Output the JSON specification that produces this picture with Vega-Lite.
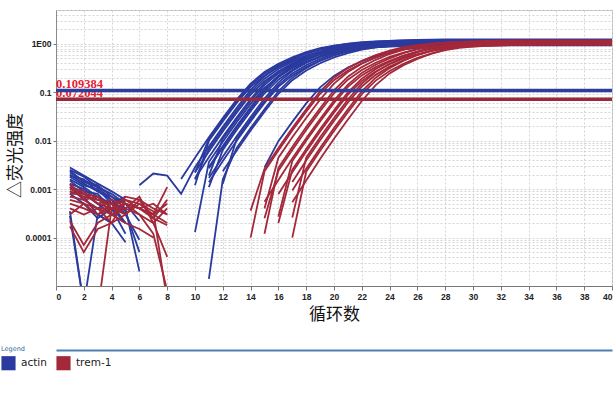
{
"$schema":"https://vega.github.io/schema/vega-lite/v6.json",
"width":556,"height":276,
"autosize":{"type":"none"},
"padding":{"left":56,"top":10,"right":4,"bottom":107},
"background":"white",
"config":{
 "view":{"stroke":"#b8b8b8","strokeWidth":1},
 "axis":{"labelFont":"Liberation Sans","labelFontWeight":"bold","labelFontSize":8.5,"labelColor":"#222","tickColor":"#777","domainColor":"#8a8a8a","gridColor":"#d4d4d4","gridDash":[2,2],"gridWidth":1,"titleFont":"Noto Sans CJK SC","titleFontSize":17,"titleFontWeight":"normal","titleColor":"#111","labelOverlap":false}
},
"datasets":{
"actin":[
{"s":"B1","c":1,"v":0.0028},{"s":"B1","c":2,"v":0.0019},{"s":"B1","c":3,"v":0.0013},{"s":"B1","c":4,"v":0.0009},{"s":"B1","c":5,"v":0.0006},
{"s":"B2","c":1,"v":0.0025},{"s":"B2","c":2,"v":0.0018},{"s":"B2","c":3,"v":0.0011},{"s":"B2","c":4,"v":0.0008},{"s":"B2","c":5,"v":0.0005},{"s":"B2","c":6,"v":0.00022},
{"s":"B3","c":1,"v":0.0022},{"s":"B3","c":2,"v":0.0015},{"s":"B3","c":3,"v":0.0012},{"s":"B3","c":4,"v":0.0007},{"s":"B3","c":5,"v":0.0004},
{"s":"B4","c":1,"v":0.002},{"s":"B4","c":2,"v":0.0013},{"s":"B4","c":3,"v":0.0009},{"s":"B4","c":4,"v":0.0006},{"s":"B4","c":5,"v":0.0003},{"s":"B4","c":6,"v":0.00009},
{"s":"B5","c":1,"v":0.0018},{"s":"B5","c":2,"v":0.0012},{"s":"B5","c":3,"v":0.001},{"s":"B5","c":4,"v":0.0005},{"s":"B5","c":5,"v":0.0007},
{"s":"B6","c":1,"v":0.0016},{"s":"B6","c":2,"v":0.0011},{"s":"B6","c":3,"v":0.0007},{"s":"B6","c":4,"v":0.0005},{"s":"B6","c":5,"v":0.0002},
{"s":"B7","c":1,"v":0.0015},{"s":"B7","c":2,"v":0.0009},{"s":"B7","c":3,"v":0.0008},{"s":"B7","c":4,"v":0.0004},{"s":"B7","c":5,"v":0.00012},
{"s":"B8","c":1,"v":0.0013},{"s":"B8","c":2,"v":0.001},{"s":"B8","c":3,"v":0.0006},{"s":"B8","c":4,"v":0.0005},{"s":"B8","c":5,"v":0.0004},{"s":"B8","c":6,"v":0.00002},
{"s":"B9","c":1,"v":0.0012},{"s":"B9","c":2,"v":0.0008},{"s":"B9","c":3,"v":0.0005},{"s":"B9","c":4,"v":0.0003},{"s":"B9","c":5,"v":0.0002},
{"s":"B10","c":1,"v":0.0011},{"s":"B10","c":2,"v":0.0006},{"s":"B10","c":3,"v":0.0004},{"s":"B10","c":4,"v":0.0006},{"s":"B10","c":5,"v":0.0003},
{"s":"B11","c":1,"v":0.0009},{"s":"B11","c":2,"v":0.0007},{"s":"B11","c":3,"v":0.0003},{"s":"B11","c":4,"v":0.0002},{"s":"B11","c":5,"v":0.00008},
{"s":"B12","c":1,"v":0.0008},{"s":"B12","c":2,"v":0.0005},{"s":"B12","c":3,"v":0.00025},{"s":"B12","c":4,"v":0.0004},{"s":"B12","c":5,"v":0.0002},
{"s":"B13","c":1,"v":0.00035},{"s":"B13","c":2,"v":0.000004},{"s":"B13","c":3,"v":0.0003},{"s":"B13","c":4,"v":0.0002},
{"s":"B14","c":1,"v":0.00028},{"s":"B14","c":2,"v":0.000004},
{"s":"B15","c":1,"v":0.0024},{"s":"B15","c":2,"v":0.0014},{"s":"B15","c":3,"v":0.0011},{"s":"B15","c":4,"v":0.0006},{"s":"B15","c":5,"v":0.00035},{"s":"B15","c":6,"v":0.00005},
{"s":"B16","c":1,"v":0.0019},{"s":"B16","c":2,"v":0.0016},{"s":"B16","c":3,"v":0.0009},{"s":"B16","c":4,"v":0.0007},{"s":"B16","c":5,"v":0.0005},
{"s":"A1","c":9,"v":0.00162},{"s":"A1","c":10,"v":0.00447},{"s":"A1","c":11,"v":0.0118},{"s":"A1","c":12,"v":0.0295},{"s":"A1","c":13,"v":0.0709},{"s":"A1","c":14,"v":0.151},{"s":"A1","c":15,"v":0.263},{"s":"A1","c":16,"v":0.389},{"s":"A1","c":17,"v":0.525},{"s":"A1","c":18,"v":0.676},{"s":"A1","c":19,"v":0.814},{"s":"A1","c":20,"v":0.923},{"s":"A1","c":21,"v":1.0},{"s":"A1","c":22,"v":1.06},{"s":"A1","c":23,"v":1.085},{"s":"A1","c":24,"v":1.11},{"s":"A1","c":25,"v":1.129},{"s":"A1","c":26,"v":1.142},{"s":"A1","c":40,"v":1.149},
{"s":"A2","c":10,"v":0.0012},{"s":"A2","c":11,"v":0.01},{"s":"A2","c":12,"v":0.0251},{"s":"A2","c":13,"v":0.0603},{"s":"A2","c":14,"v":0.129},{"s":"A2","c":15,"v":0.223},{"s":"A2","c":16,"v":0.331},{"s":"A2","c":17,"v":0.447},{"s":"A2","c":18,"v":0.575},{"s":"A2","c":19,"v":0.692},{"s":"A2","c":20,"v":0.785},{"s":"A2","c":21,"v":0.851},{"s":"A2","c":22,"v":0.902},{"s":"A2","c":23,"v":0.923},{"s":"A2","c":24,"v":0.944},{"s":"A2","c":25,"v":0.96},{"s":"A2","c":26,"v":0.971},{"s":"A2","c":40,"v":0.978},
{"s":"A3","c":6,"v":0.0012},{"s":"A3","c":7,"v":0.0021},{"s":"A3","c":8,"v":0.0019},{"s":"A3","c":9,"v":0.0008},{"s":"A3","c":10,"v":0.00282},{"s":"A3","c":11,"v":0.00758},{"s":"A3","c":12,"v":0.0195},{"s":"A3","c":13,"v":0.0479},{"s":"A3","c":14,"v":0.112},{"s":"A3","c":15,"v":0.214},{"s":"A3","c":16,"v":0.339},{"s":"A3","c":17,"v":0.479},{"s":"A3","c":18,"v":0.631},{"s":"A3","c":19,"v":0.776},{"s":"A3","c":20,"v":0.912},{"s":"A3","c":21,"v":1.012},{"s":"A3","c":22,"v":1.084},{"s":"A3","c":23,"v":1.122},{"s":"A3","c":24,"v":1.148},{"s":"A3","c":25,"v":1.175},{"s":"A3","c":26,"v":1.188},{"s":"A3","c":27,"v":1.203},{"s":"A3","c":40,"v":1.203},
{"s":"A4","c":10,"v":0.0016},{"s":"A4","c":11,"v":0.00676},{"s":"A4","c":12,"v":0.0174},{"s":"A4","c":13,"v":0.0427},{"s":"A4","c":14,"v":0.1},{"s":"A4","c":15,"v":0.191},{"s":"A4","c":16,"v":0.302},{"s":"A4","c":17,"v":0.427},{"s":"A4","c":18,"v":0.562},{"s":"A4","c":19,"v":0.692},{"s":"A4","c":20,"v":0.813},{"s":"A4","c":21,"v":0.902},{"s":"A4","c":22,"v":0.966},{"s":"A4","c":23,"v":1.0},{"s":"A4","c":24,"v":1.023},{"s":"A4","c":25,"v":1.047},{"s":"A4","c":26,"v":1.059},{"s":"A4","c":27,"v":1.072},{"s":"A4","c":40,"v":1.072},
{"s":"A5","c":10,"v":0.00224},{"s":"A5","c":11,"v":0.00602},{"s":"A5","c":12,"v":0.0155},{"s":"A5","c":13,"v":0.038},{"s":"A5","c":14,"v":0.0891},{"s":"A5","c":15,"v":0.17},{"s":"A5","c":16,"v":0.269},{"s":"A5","c":17,"v":0.38},{"s":"A5","c":18,"v":0.501},{"s":"A5","c":19,"v":0.617},{"s":"A5","c":20,"v":0.724},{"s":"A5","c":21,"v":0.804},{"s":"A5","c":22,"v":0.861},{"s":"A5","c":23,"v":0.891},{"s":"A5","c":24,"v":0.912},{"s":"A5","c":25,"v":0.933},{"s":"A5","c":26,"v":0.944},{"s":"A5","c":27,"v":0.955},{"s":"A5","c":40,"v":0.955},
{"s":"A6","c":10,"v":0.00165},{"s":"A6","c":11,"v":0.00457},{"s":"A6","c":12,"v":0.012},{"s":"A6","c":13,"v":0.0301},{"s":"A6","c":14,"v":0.0724},{"s":"A6","c":15,"v":0.155},{"s":"A6","c":16,"v":0.269},{"s":"A6","c":17,"v":0.398},{"s":"A6","c":18,"v":0.537},{"s":"A6","c":19,"v":0.692},{"s":"A6","c":20,"v":0.832},{"s":"A6","c":21,"v":0.944},{"s":"A6","c":22,"v":1.023},{"s":"A6","c":23,"v":1.084},{"s":"A6","c":24,"v":1.109},{"s":"A6","c":25,"v":1.134},{"s":"A6","c":26,"v":1.154},{"s":"A6","c":27,"v":1.167},{"s":"A6","c":40,"v":1.175},
{"s":"A7","c":11,"v":0.0019},{"s":"A7","c":12,"v":0.011},{"s":"A7","c":13,"v":0.0275},{"s":"A7","c":14,"v":0.0661},{"s":"A7","c":15,"v":0.141},{"s":"A7","c":16,"v":0.245},{"s":"A7","c":17,"v":0.363},{"s":"A7","c":18,"v":0.49},{"s":"A7","c":19,"v":0.631},{"s":"A7","c":20,"v":0.759},{"s":"A7","c":21,"v":0.861},{"s":"A7","c":22,"v":0.933},{"s":"A7","c":23,"v":0.989},{"s":"A7","c":24,"v":1.012},{"s":"A7","c":25,"v":1.035},{"s":"A7","c":26,"v":1.053},{"s":"A7","c":27,"v":1.065},{"s":"A7","c":40,"v":1.072},
{"s":"A8","c":10,"v":0.00013},{"s":"A8","c":11,"v":0.00363},{"s":"A8","c":12,"v":0.00955},{"s":"A8","c":13,"v":0.024},{"s":"A8","c":14,"v":0.0576},{"s":"A8","c":15,"v":0.123},{"s":"A8","c":16,"v":0.213},{"s":"A8","c":17,"v":0.316},{"s":"A8","c":18,"v":0.427},{"s":"A8","c":19,"v":0.55},{"s":"A8","c":20,"v":0.661},{"s":"A8","c":21,"v":0.75},{"s":"A8","c":22,"v":0.813},{"s":"A8","c":23,"v":0.861},{"s":"A8","c":24,"v":0.881},{"s":"A8","c":25,"v":0.901},{"s":"A8","c":26,"v":0.917},{"s":"A8","c":27,"v":0.928},{"s":"A8","c":40,"v":0.934},
{"s":"A9","c":11,"v":0.00269},{"s":"A9","c":12,"v":0.00725},{"s":"A9","c":13,"v":0.0187},{"s":"A9","c":14,"v":0.0458},{"s":"A9","c":15,"v":0.107},{"s":"A9","c":16,"v":0.205},{"s":"A9","c":17,"v":0.324},{"s":"A9","c":18,"v":0.458},{"s":"A9","c":19,"v":0.602},{"s":"A9","c":20,"v":0.742},{"s":"A9","c":21,"v":0.872},{"s":"A9","c":22,"v":0.967},{"s":"A9","c":23,"v":1.036},{"s":"A9","c":24,"v":1.072},{"s":"A9","c":25,"v":1.097},{"s":"A9","c":26,"v":1.122},{"s":"A9","c":27,"v":1.135},{"s":"A9","c":28,"v":1.149},{"s":"A9","c":40,"v":1.149},
{"s":"A10","c":11,"v":0.0011},{"s":"A10","c":12,"v":0.00646},{"s":"A10","c":13,"v":0.0166},{"s":"A10","c":14,"v":0.0408},{"s":"A10","c":15,"v":0.0955},{"s":"A10","c":16,"v":0.182},{"s":"A10","c":17,"v":0.288},{"s":"A10","c":18,"v":0.408},{"s":"A10","c":19,"v":0.537},{"s":"A10","c":20,"v":0.661},{"s":"A10","c":21,"v":0.776},{"s":"A10","c":22,"v":0.861},{"s":"A10","c":23,"v":0.923},{"s":"A10","c":24,"v":0.955},{"s":"A10","c":25,"v":0.977},{"s":"A10","c":26,"v":1.0},{"s":"A10","c":27,"v":1.011},{"s":"A10","c":28,"v":1.024},{"s":"A10","c":40,"v":1.024},
{"s":"A11","c":11,"v":0.00288},{"s":"A11","c":12,"v":0.00776},{"s":"A11","c":13,"v":0.02},{"s":"A11","c":14,"v":0.049},{"s":"A11","c":15,"v":0.115},{"s":"A11","c":16,"v":0.219},{"s":"A11","c":17,"v":0.347},{"s":"A11","c":18,"v":0.49},{"s":"A11","c":19,"v":0.645},{"s":"A11","c":20,"v":0.794},{"s":"A11","c":21,"v":0.933},{"s":"A11","c":22,"v":1.035},{"s":"A11","c":23,"v":1.109},{"s":"A11","c":24,"v":1.148},{"s":"A11","c":25,"v":1.174},{"s":"A11","c":26,"v":1.202},{"s":"A11","c":27,"v":1.216},{"s":"A11","c":28,"v":1.231},{"s":"A11","c":40,"v":1.231},
{"s":"A12","c":12,"v":0.0013},{"s":"A12","c":13,"v":0.011},{"s":"A12","c":14,"v":0.0275},{"s":"A12","c":15,"v":0.0661},{"s":"A12","c":16,"v":0.141},{"s":"A12","c":17,"v":0.245},{"s":"A12","c":18,"v":0.363},{"s":"A12","c":19,"v":0.49},{"s":"A12","c":20,"v":0.631},{"s":"A12","c":21,"v":0.759},{"s":"A12","c":22,"v":0.861},{"s":"A12","c":23,"v":0.933},{"s":"A12","c":24,"v":0.989},{"s":"A12","c":25,"v":1.012},{"s":"A12","c":26,"v":1.035},{"s":"A12","c":27,"v":1.053},{"s":"A12","c":28,"v":1.065},{"s":"A12","c":40,"v":1.072},
{"s":"A13","c":11,"v":0.00138},{"s":"A13","c":12,"v":0.0038},{"s":"A13","c":13,"v":0.01},{"s":"A13","c":14,"v":0.0251},{"s":"A13","c":15,"v":0.0603},{"s":"A13","c":16,"v":0.129},{"s":"A13","c":17,"v":0.223},{"s":"A13","c":18,"v":0.331},{"s":"A13","c":19,"v":0.447},{"s":"A13","c":20,"v":0.575},{"s":"A13","c":21,"v":0.692},{"s":"A13","c":22,"v":0.785},{"s":"A13","c":23,"v":0.851},{"s":"A13","c":24,"v":0.902},{"s":"A13","c":25,"v":0.923},{"s":"A13","c":26,"v":0.944},{"s":"A13","c":27,"v":0.96},{"s":"A13","c":28,"v":0.971},{"s":"A13","c":40,"v":0.978},
{"s":"A14","c":11,"v":0.000014},{"s":"A14","c":12,"v":0.0016},{"s":"A14","c":13,"v":0.00708},{"s":"A14","c":14,"v":0.0182},{"s":"A14","c":15,"v":0.0447},{"s":"A14","c":16,"v":0.105},{"s":"A14","c":17,"v":0.2},{"s":"A14","c":18,"v":0.316},{"s":"A14","c":19,"v":0.447},{"s":"A14","c":20,"v":0.588},{"s":"A14","c":21,"v":0.724},{"s":"A14","c":22,"v":0.851},{"s":"A14","c":23,"v":0.944},{"s":"A14","c":24,"v":1.011},{"s":"A14","c":25,"v":1.047},{"s":"A14","c":26,"v":1.071},{"s":"A14","c":27,"v":1.096},{"s":"A14","c":28,"v":1.109},{"s":"A14","c":29,"v":1.122},{"s":"A14","c":40,"v":1.122},
{"s":"A15","c":12,"v":0.00234},{"s":"A15","c":13,"v":0.00631},{"s":"A15","c":14,"v":0.0162},{"s":"A15","c":15,"v":0.0398},{"s":"A15","c":16,"v":0.0933},{"s":"A15","c":17,"v":0.178},{"s":"A15","c":18,"v":0.282},{"s":"A15","c":19,"v":0.398},{"s":"A15","c":20,"v":0.524},{"s":"A15","c":21,"v":0.646},{"s":"A15","c":22,"v":0.759},{"s":"A15","c":23,"v":0.842},{"s":"A15","c":24,"v":0.901},{"s":"A15","c":25,"v":0.933},{"s":"A15","c":26,"v":0.954},{"s":"A15","c":27,"v":0.977},{"s":"A15","c":28,"v":0.988},{"s":"A15","c":29,"v":1.0},{"s":"A15","c":40,"v":1.0},
{"s":"A16","c":15,"v":0.0028},{"s":"A16","c":16,"v":0.00977},{"s":"A16","c":17,"v":0.0245},{"s":"A16","c":18,"v":0.0589},{"s":"A16","c":19,"v":0.126},{"s":"A16","c":20,"v":0.218},{"s":"A16","c":21,"v":0.323},{"s":"A16","c":22,"v":0.437},{"s":"A16","c":23,"v":0.562},{"s":"A16","c":24,"v":0.676},{"s":"A16","c":25,"v":0.767},{"s":"A16","c":26,"v":0.831},{"s":"A16","c":27,"v":0.881},{"s":"A16","c":28,"v":0.902},{"s":"A16","c":29,"v":0.922},{"s":"A16","c":30,"v":0.938},{"s":"A16","c":31,"v":0.949},{"s":"A16","c":40,"v":0.955},
{"s":"A17","c":10,"v":0.0022},{"s":"A17","c":11,"v":0.011},{"s":"A17","c":12,"v":0.0275},{"s":"A17","c":13,"v":0.0661},{"s":"A17","c":14,"v":0.141},{"s":"A17","c":15,"v":0.245},{"s":"A17","c":16,"v":0.363},{"s":"A17","c":17,"v":0.49},{"s":"A17","c":18,"v":0.631},{"s":"A17","c":19,"v":0.759},{"s":"A17","c":20,"v":0.861},{"s":"A17","c":21,"v":0.933},{"s":"A17","c":22,"v":0.989},{"s":"A17","c":23,"v":1.012},{"s":"A17","c":24,"v":1.035},{"s":"A17","c":25,"v":1.053},{"s":"A17","c":26,"v":1.065},{"s":"A17","c":40,"v":1.072},
{"s":"A18","c":11,"v":0.00169},{"s":"A18","c":12,"v":0.00468},{"s":"A18","c":13,"v":0.0123},{"s":"A18","c":14,"v":0.0309},{"s":"A18","c":15,"v":0.0742},{"s":"A18","c":16,"v":0.158},{"s":"A18","c":17,"v":0.275},{"s":"A18","c":18,"v":0.407},{"s":"A18","c":19,"v":0.55},{"s":"A18","c":20,"v":0.708},{"s":"A18","c":21,"v":0.852},{"s":"A18","c":22,"v":0.966},{"s":"A18","c":23,"v":1.047},{"s":"A18","c":24,"v":1.11},{"s":"A18","c":25,"v":1.135},{"s":"A18","c":26,"v":1.161},{"s":"A18","c":27,"v":1.181},{"s":"A18","c":28,"v":1.195},{"s":"A18","c":40,"v":1.203}
],
"trem":[
{"s":"R1","c":1,"v":0.0009},{"s":"R1","c":2,"v":0.0007},{"s":"R1","c":3,"v":0.0006},{"s":"R1","c":4,"v":0.0005},{"s":"R1","c":5,"v":0.0006},{"s":"R1","c":6,"v":0.0005},{"s":"R1","c":7,"v":0.0003},{"s":"R1","c":8,"v":0.0005},
{"s":"R2","c":1,"v":0.0008},{"s":"R2","c":2,"v":0.0008},{"s":"R2","c":3,"v":0.0005},{"s":"R2","c":4,"v":0.0004},{"s":"R2","c":5,"v":0.0007},{"s":"R2","c":6,"v":0.0006},{"s":"R2","c":7,"v":0.0004},{"s":"R2","c":8,"v":0.0003},
{"s":"R3","c":1,"v":0.0007},{"s":"R3","c":2,"v":0.0006},{"s":"R3","c":3,"v":0.0007},{"s":"R3","c":4,"v":0.0003},{"s":"R3","c":5,"v":0.0005},{"s":"R3","c":6,"v":0.0004},{"s":"R3","c":7,"v":0.00025},{"s":"R3","c":8,"v":0.0006},
{"s":"R4","c":1,"v":0.0006},{"s":"R4","c":2,"v":0.0005},{"s":"R4","c":3,"v":0.0004},{"s":"R4","c":4,"v":0.0004},{"s":"R4","c":5,"v":0.0004},{"s":"R4","c":6,"v":0.0007},{"s":"R4","c":7,"v":0.0002},{"s":"R4","c":8,"v":0.00004},
{"s":"R5","c":1,"v":0.0005},{"s":"R5","c":2,"v":0.0004},{"s":"R5","c":3,"v":0.0003},{"s":"R5","c":4,"v":0.0005},{"s":"R5","c":5,"v":0.0003},{"s":"R5","c":6,"v":0.0005},{"s":"R5","c":7,"v":0.00035},{"s":"R5","c":8,"v":0.000005},
{"s":"R6","c":1,"v":0.0011},{"s":"R6","c":2,"v":0.0009},{"s":"R6","c":3,"v":0.0005},{"s":"R6","c":4,"v":0.0006},{"s":"R6","c":5,"v":0.0005},{"s":"R6","c":6,"v":0.0003},{"s":"R6","c":7,"v":0.0002},{"s":"R6","c":8,"v":0.0004},
{"s":"R7","c":1,"v":0.0004},{"s":"R7","c":2,"v":0.0003},{"s":"R7","c":3,"v":0.0004},{"s":"R7","c":4,"v":0.0002},{"s":"R7","c":5,"v":0.0006},{"s":"R7","c":6,"v":0.0004},{"s":"R7","c":7,"v":0.0005},{"s":"R7","c":8,"v":0.0003},
{"s":"R8","c":1,"v":0.00022},{"s":"R8","c":2,"v":0.00007},{"s":"R8","c":3,"v":0.0002},{"s":"R8","c":4,"v":0.0003},{"s":"R8","c":5,"v":0.0004},{"s":"R8","c":6,"v":0.0003},{"s":"R8","c":7,"v":0.00012},{"s":"R8","c":8,"v":0.000008},
{"s":"R9","c":1,"v":0.00017},{"s":"R9","c":2,"v":0.00005},{"s":"R9","c":3,"v":0.00015},{"s":"R9","c":4,"v":0.0002},{"s":"R9","c":5,"v":0.0003},
{"s":"R10","c":1,"v":0.0013},{"s":"R10","c":2,"v":0.0006},{"s":"R10","c":3,"v":0.0004},{"s":"R10","c":4,"v":0.0003},{"s":"R10","c":5,"v":0.0002},{"s":"R10","c":6,"v":0.00015},{"s":"R10","c":7,"v":0.0001},
{"s":"R11","c":3,"v":0.000003},{"s":"R11","c":4,"v":0.0004},{"s":"R11","c":5,"v":0.0005},{"s":"R11","c":6,"v":0.0004},{"s":"R11","c":7,"v":0.0003},{"s":"R11","c":8,"v":0.0002},
{"s":"R12","c":1,"v":0.0003},{"s":"R12","c":2,"v":0.0005},{"s":"R12","c":3,"v":0.0003},{"s":"R12","c":4,"v":0.0004},{"s":"R12","c":5,"v":0.0003},{"s":"R12","c":6,"v":0.0006},{"s":"R12","c":7,"v":0.00025},{"s":"R12","c":8,"v":0.00018},
{"s":"R13","c":1,"v":0.001},{"s":"R13","c":2,"v":0.0008},{"s":"R13","c":3,"v":0.0007},{"s":"R13","c":4,"v":0.0004},{"s":"R13","c":5,"v":0.0005},{"s":"R13","c":6,"v":0.0004},{"s":"R13","c":7,"v":0.0003},{"s":"R13","c":8,"v":0.0011},
{"s":"T1","c":14,"v":0.00036},{"s":"T1","c":15,"v":0.00263},{"s":"T1","c":16,"v":0.00708},{"s":"T1","c":17,"v":0.0182},{"s":"T1","c":18,"v":0.0447},{"s":"T1","c":19,"v":0.105},{"s":"T1","c":20,"v":0.2},{"s":"T1","c":21,"v":0.316},{"s":"T1","c":22,"v":0.447},{"s":"T1","c":23,"v":0.588},{"s":"T1","c":24,"v":0.724},{"s":"T1","c":25,"v":0.851},{"s":"T1","c":26,"v":0.944},{"s":"T1","c":27,"v":1.011},{"s":"T1","c":28,"v":1.047},{"s":"T1","c":29,"v":1.071},{"s":"T1","c":30,"v":1.096},{"s":"T1","c":31,"v":1.109},{"s":"T1","c":32,"v":1.122},{"s":"T1","c":40,"v":1.122},
{"s":"T2","c":14,"v":0.0001},{"s":"T2","c":15,"v":0.00234},{"s":"T2","c":16,"v":0.00631},{"s":"T2","c":17,"v":0.0162},{"s":"T2","c":18,"v":0.0398},{"s":"T2","c":19,"v":0.0933},{"s":"T2","c":20,"v":0.178},{"s":"T2","c":21,"v":0.282},{"s":"T2","c":22,"v":0.398},{"s":"T2","c":23,"v":0.524},{"s":"T2","c":24,"v":0.646},{"s":"T2","c":25,"v":0.759},{"s":"T2","c":26,"v":0.842},{"s":"T2","c":27,"v":0.901},{"s":"T2","c":28,"v":0.933},{"s":"T2","c":29,"v":0.954},{"s":"T2","c":30,"v":0.977},{"s":"T2","c":31,"v":0.988},{"s":"T2","c":32,"v":1.0},{"s":"T2","c":40,"v":1.0},
{"s":"T3","c":15,"v":0.0004},{"s":"T3","c":16,"v":0.00447},{"s":"T3","c":17,"v":0.0118},{"s":"T3","c":18,"v":0.0295},{"s":"T3","c":19,"v":0.0709},{"s":"T3","c":20,"v":0.151},{"s":"T3","c":21,"v":0.263},{"s":"T3","c":22,"v":0.389},{"s":"T3","c":23,"v":0.525},{"s":"T3","c":24,"v":0.676},{"s":"T3","c":25,"v":0.814},{"s":"T3","c":26,"v":0.923},{"s":"T3","c":27,"v":1.0},{"s":"T3","c":28,"v":1.06},{"s":"T3","c":29,"v":1.085},{"s":"T3","c":30,"v":1.11},{"s":"T3","c":31,"v":1.129},{"s":"T3","c":32,"v":1.142},{"s":"T3","c":40,"v":1.149},
{"s":"T4","c":15,"v":0.00025},{"s":"T4","c":16,"v":0.0024},{"s":"T4","c":17,"v":0.00646},{"s":"T4","c":18,"v":0.0166},{"s":"T4","c":19,"v":0.0408},{"s":"T4","c":20,"v":0.0955},{"s":"T4","c":21,"v":0.182},{"s":"T4","c":22,"v":0.288},{"s":"T4","c":23,"v":0.408},{"s":"T4","c":24,"v":0.537},{"s":"T4","c":25,"v":0.661},{"s":"T4","c":26,"v":0.776},{"s":"T4","c":27,"v":0.861},{"s":"T4","c":28,"v":0.923},{"s":"T4","c":29,"v":0.955},{"s":"T4","c":30,"v":0.977},{"s":"T4","c":31,"v":1.0},{"s":"T4","c":32,"v":1.011},{"s":"T4","c":33,"v":1.024},{"s":"T4","c":40,"v":1.024},
{"s":"T5","c":15,"v":0.00012},{"s":"T5","c":16,"v":0.00275},{"s":"T5","c":17,"v":0.00741},{"s":"T5","c":18,"v":0.0191},{"s":"T5","c":19,"v":0.0468},{"s":"T5","c":20,"v":0.11},{"s":"T5","c":21,"v":0.209},{"s":"T5","c":22,"v":0.331},{"s":"T5","c":23,"v":0.468},{"s":"T5","c":24,"v":0.616},{"s":"T5","c":25,"v":0.758},{"s":"T5","c":26,"v":0.891},{"s":"T5","c":27,"v":0.989},{"s":"T5","c":28,"v":1.059},{"s":"T5","c":29,"v":1.096},{"s":"T5","c":30,"v":1.121},{"s":"T5","c":31,"v":1.148},{"s":"T5","c":32,"v":1.161},{"s":"T5","c":33,"v":1.175},{"s":"T5","c":40,"v":1.175},
{"s":"T6","c":16,"v":0.00027},{"s":"T6","c":17,"v":0.0038},{"s":"T6","c":18,"v":0.01},{"s":"T6","c":19,"v":0.0251},{"s":"T6","c":20,"v":0.0603},{"s":"T6","c":21,"v":0.129},{"s":"T6","c":22,"v":0.223},{"s":"T6","c":23,"v":0.331},{"s":"T6","c":24,"v":0.447},{"s":"T6","c":25,"v":0.575},{"s":"T6","c":26,"v":0.692},{"s":"T6","c":27,"v":0.785},{"s":"T6","c":28,"v":0.851},{"s":"T6","c":29,"v":0.902},{"s":"T6","c":30,"v":0.923},{"s":"T6","c":31,"v":0.944},{"s":"T6","c":32,"v":0.96},{"s":"T6","c":33,"v":0.971},{"s":"T6","c":40,"v":0.978},
{"s":"T7","c":15,"v":0.000549},{"s":"T7","c":16,"v":0.00154},{"s":"T7","c":17,"v":0.00427},{"s":"T7","c":18,"v":0.0112},{"s":"T7","c":19,"v":0.0281},{"s":"T7","c":20,"v":0.0676},{"s":"T7","c":21,"v":0.144},{"s":"T7","c":22,"v":0.251},{"s":"T7","c":23,"v":0.371},{"s":"T7","c":24,"v":0.501},{"s":"T7","c":25,"v":0.646},{"s":"T7","c":26,"v":0.776},{"s":"T7","c":27,"v":0.881},{"s":"T7","c":28,"v":0.954},{"s":"T7","c":29,"v":1.012},{"s":"T7","c":30,"v":1.035},{"s":"T7","c":31,"v":1.059},{"s":"T7","c":32,"v":1.077},{"s":"T7","c":33,"v":1.09},{"s":"T7","c":40,"v":1.097},
{"s":"T8","c":16,"v":0.0002},{"s":"T8","c":17,"v":0.00251},{"s":"T8","c":18,"v":0.00676},{"s":"T8","c":19,"v":0.0174},{"s":"T8","c":20,"v":0.0427},{"s":"T8","c":21,"v":0.1},{"s":"T8","c":22,"v":0.191},{"s":"T8","c":23,"v":0.302},{"s":"T8","c":24,"v":0.427},{"s":"T8","c":25,"v":0.562},{"s":"T8","c":26,"v":0.692},{"s":"T8","c":27,"v":0.813},{"s":"T8","c":28,"v":0.902},{"s":"T8","c":29,"v":0.966},{"s":"T8","c":30,"v":1.0},{"s":"T8","c":31,"v":1.023},{"s":"T8","c":32,"v":1.047},{"s":"T8","c":33,"v":1.059},{"s":"T8","c":34,"v":1.072},{"s":"T8","c":40,"v":1.072},
{"s":"T9","c":16,"v":0.000794},{"s":"T9","c":17,"v":0.00224},{"s":"T9","c":18,"v":0.00602},{"s":"T9","c":19,"v":0.0155},{"s":"T9","c":20,"v":0.038},{"s":"T9","c":21,"v":0.0891},{"s":"T9","c":22,"v":0.17},{"s":"T9","c":23,"v":0.269},{"s":"T9","c":24,"v":0.38},{"s":"T9","c":25,"v":0.501},{"s":"T9","c":26,"v":0.617},{"s":"T9","c":27,"v":0.724},{"s":"T9","c":28,"v":0.804},{"s":"T9","c":29,"v":0.861},{"s":"T9","c":30,"v":0.891},{"s":"T9","c":31,"v":0.912},{"s":"T9","c":32,"v":0.933},{"s":"T9","c":33,"v":0.944},{"s":"T9","c":34,"v":0.955},{"s":"T9","c":40,"v":0.955},
{"s":"T10","c":17,"v":0.00026},{"s":"T10","c":18,"v":0.00447},{"s":"T10","c":19,"v":0.0118},{"s":"T10","c":20,"v":0.0295},{"s":"T10","c":21,"v":0.0709},{"s":"T10","c":22,"v":0.151},{"s":"T10","c":23,"v":0.263},{"s":"T10","c":24,"v":0.389},{"s":"T10","c":25,"v":0.525},{"s":"T10","c":26,"v":0.676},{"s":"T10","c":27,"v":0.814},{"s":"T10","c":28,"v":0.923},{"s":"T10","c":29,"v":1.0},{"s":"T10","c":30,"v":1.06},{"s":"T10","c":31,"v":1.085},{"s":"T10","c":32,"v":1.11},{"s":"T10","c":33,"v":1.129},{"s":"T10","c":34,"v":1.142},{"s":"T10","c":40,"v":1.149},
{"s":"T11","c":17,"v":0.00141},{"s":"T11","c":18,"v":0.00389},{"s":"T11","c":19,"v":0.0102},{"s":"T11","c":20,"v":0.0257},{"s":"T11","c":21,"v":0.0617},{"s":"T11","c":22,"v":0.132},{"s":"T11","c":23,"v":0.229},{"s":"T11","c":24,"v":0.339},{"s":"T11","c":25,"v":0.457},{"s":"T11","c":26,"v":0.589},{"s":"T11","c":27,"v":0.708},{"s":"T11","c":28,"v":0.803},{"s":"T11","c":29,"v":0.871},{"s":"T11","c":30,"v":0.923},{"s":"T11","c":31,"v":0.944},{"s":"T11","c":32,"v":0.966},{"s":"T11","c":33,"v":0.982},{"s":"T11","c":34,"v":0.994},{"s":"T11","c":40,"v":1.0},
{"s":"T12","c":17,"v":0.000933},{"s":"T12","c":18,"v":0.00263},{"s":"T12","c":19,"v":0.00708},{"s":"T12","c":20,"v":0.0182},{"s":"T12","c":21,"v":0.0447},{"s":"T12","c":22,"v":0.105},{"s":"T12","c":23,"v":0.2},{"s":"T12","c":24,"v":0.316},{"s":"T12","c":25,"v":0.447},{"s":"T12","c":26,"v":0.588},{"s":"T12","c":27,"v":0.724},{"s":"T12","c":28,"v":0.851},{"s":"T12","c":29,"v":0.944},{"s":"T12","c":30,"v":1.011},{"s":"T12","c":31,"v":1.047},{"s":"T12","c":32,"v":1.071},{"s":"T12","c":33,"v":1.096},{"s":"T12","c":34,"v":1.109},{"s":"T12","c":35,"v":1.122},{"s":"T12","c":40,"v":1.122},
{"s":"T13","c":17,"v":0.0001},{"s":"T13","c":18,"v":0.00229},{"s":"T13","c":19,"v":0.00617},{"s":"T13","c":20,"v":0.0159},{"s":"T13","c":21,"v":0.0389},{"s":"T13","c":22,"v":0.0912},{"s":"T13","c":23,"v":0.174},{"s":"T13","c":24,"v":0.275},{"s":"T13","c":25,"v":0.389},{"s":"T13","c":26,"v":0.513},{"s":"T13","c":27,"v":0.631},{"s":"T13","c":28,"v":0.741},{"s":"T13","c":29,"v":0.823},{"s":"T13","c":30,"v":0.881},{"s":"T13","c":31,"v":0.912},{"s":"T13","c":32,"v":0.933},{"s":"T13","c":33,"v":0.955},{"s":"T13","c":34,"v":0.966},{"s":"T13","c":35,"v":0.978},{"s":"T13","c":40,"v":0.978},
{"s":"T14","c":17,"v":0.000537},{"s":"T14","c":18,"v":0.00151},{"s":"T14","c":19,"v":0.00417},{"s":"T14","c":20,"v":0.011},{"s":"T14","c":21,"v":0.0275},{"s":"T14","c":22,"v":0.0661},{"s":"T14","c":23,"v":0.141},{"s":"T14","c":24,"v":0.245},{"s":"T14","c":25,"v":0.363},{"s":"T14","c":26,"v":0.49},{"s":"T14","c":27,"v":0.631},{"s":"T14","c":28,"v":0.759},{"s":"T14","c":29,"v":0.861},{"s":"T14","c":30,"v":0.933},{"s":"T14","c":31,"v":0.989},{"s":"T14","c":32,"v":1.012},{"s":"T14","c":33,"v":1.035},{"s":"T14","c":34,"v":1.053},{"s":"T14","c":35,"v":1.065},{"s":"T14","c":40,"v":1.072}
],
"thr":[{"t":0.109384,"k":"a","lab":"0.109384"},{"t":0.072044,"k":"b","lab":"0.072044"}]
},
"layer":[
{"data":{"name":"actin"},
 "mark":{"type":"line","strokeWidth":1.8,"clip":true},
 "encoding":{
  "x":{"field":"c","type":"quantitative","scale":{"domain":[0,40],"nice":false,"zero":false},
       "axis":{"orient":"bottom","title":"循环数","values":[0,2,4,6,8,10,12,14,16,18,20,22,24,26,28,30,32,34,36,38,40],"grid":true,"tickSize":4,"labelPadding":2,"titlePadding":6,"domainColor":"#777"}},
  "y":{"field":"v","type":"quantitative","scale":{"type":"log","domain":[0.00001,5],"nice":false},
       "axis":{"title":"△荧光强度","tickCount":12,"grid":true,"labelPadding":2,"titlePadding":1,"titleY":145,
        "labelExpr":"datum.value == 1 ? '1E00' : ((datum.value == 0.1 || datum.value == 0.01 || datum.value == 0.001 || datum.value == 0.0001) ? datum.value + '' : '')",
        "tickSize":3,
        "tickOpacity":{"condition":{"test":"datum.value == 1 || datum.value == 0.1 || datum.value == 0.01 || datum.value == 0.001 || datum.value == 0.0001","value":1},"value":0}}},
  "detail":{"field":"s"},
  "color":{"datum":"actin","type":"nominal","scale":{"domain":["actin","trem-1"],"range":["#2b3a9e","#a3283a"]},
   "legend":{"orient":"none","legendX":-55,"legendY":336,"direction":"horizontal","title":"Legend","titleFont":"DejaVu Sans","titleFontSize":6.5,"titleFontWeight":"normal","titleColor":"#2a6aa0","titlePadding":3,"padding":0,
    "symbolType":"square","symbolSize":200,"symbolStrokeWidth":0,"labelFont":"DejaVu Sans","labelFontSize":10.5,"labelColor":"#222","labelOffset":5,"columnPadding":9,
    "encode":{"symbols":{"update":{"fill":{"scale":"color","field":"value"},"fillOpacity":{"value":1},"strokeWidth":{"value":0}}}}}}
 }},
{"data":{"name":"trem"},
 "mark":{"type":"line","strokeWidth":1.8,"clip":true},
 "encoding":{
  "x":{"field":"c","type":"quantitative","axis":{"orient":"bottom","offset":64,"labels":false,"ticks":false,"grid":false,"title":null,"domainColor":"#4a80b0","domainWidth":2}},
  "y":{"field":"v","type":"quantitative"},
  "detail":{"field":"s"},
  "color":{"datum":"trem-1","type":"nominal"}
 }},
{"data":{"name":"thr"},
 "mark":{"type":"text","align":"left","baseline":"alphabetic","dy":-2,"font":"Liberation Serif","fontWeight":"bold","fontSize":12.5,"color":"#e82030"},
 "encoding":{
  "x":{"datum":0,"type":"quantitative","axis":null},
  "y":{"field":"t","type":"quantitative"},
  "text":{"field":"lab"}
 }},
{"data":{"name":"thr"},
 "mark":{"type":"rule","strokeWidth":3.5},
 "encoding":{
  "y":{"field":"t","type":"quantitative"},
  "stroke":{"field":"k","type":"nominal","scale":{"domain":["a","b"],"range":["#2c3d9c","#98283a"]},"legend":null}
 }}
],
"resolve":{"axis":{"x":"independent"}}
}
